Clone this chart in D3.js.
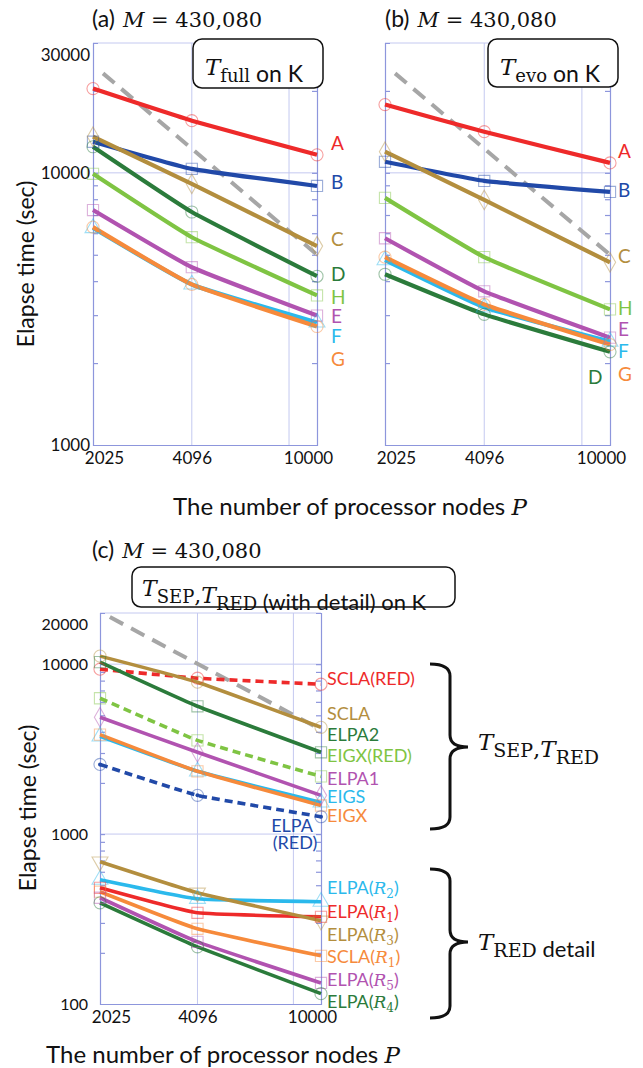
<!DOCTYPE html>
<html><head><meta charset="utf-8">
<script src="https://cdn.jsdelivr.net/npm/d3@7"></script>
<style>body{margin:0;background:#fff}svg{display:block}</style>
</head><body>
<svg id="c" width="643" height="1068"></svg>
<script>
// ---------------- DATA ----------------
const nodes = [2025, 4096, 10000];
const nodeTickLabels = ["2025", "4096", "10000"];

const fullLabels = ["A", "B", "C", "D", "H", "E", "F", "G"];
const fullValues = [
  [20400, 15550, 11650],
  [13010, 10340, 8950],
  [13580, 9110, 5380],
  [12470, 7180, 4170],
  [9920, 5800, 3545],
  [7300, 4500, 2990],
  [6270, 3890, 2820],
  [6320, 3890, 2725]
];

const evoLabels = ["A", "B", "C", "H", "E", "F", "G", "D"];
const evoValues = [
  [17820, 14170, 10880],
  [10980, 9340, 8510],
  [11960, 7950, 4690],
  [8090, 4900, 3150],
  [5750, 3670, 2480],
  [4775, 3205, 2400],
  [4900, 3285, 2340],
  [4240, 3020, 2200]
];

const idealNodes = [2175, 10000];
const idealFull = [23200, 5000];
const idealEvo = [23200, 5000];
const idealSep = [18930, 4120];

const sepLabels = ["SCLA(RED)", "SCLA", "ELPA2", "EIGX(RED)", "ELPA1", "EIGS", "EIGX", "ELPA(RED)"];
const sepValues = [
  [9340, 8270, 7620],
  [11150, 7830, 4250],
  [10280, 5650, 3030],
  [6300, 3560, 2185],
  [4870, 3030, 1690],
  [3760, 2340, 1535],
  [3850, 2340, 1473],
  [2570, 1690, 1265]
];

const redLabels = ["ELPA(R2)", "ELPA(R1)", "ELPA(R3)", "SCLA(R1)", "ELPA(R5)", "ELPA(R4)"];
const redValues = [
  [539, 416, 400],
  [483, 344, 326],
  [688, 452, 309],
  [458, 277, 192],
  [422, 232, 133],
  [394, 217, 115]
];

const yTicksAB = [1000, 10000, 30000];
const yTicksC = [100, 1000, 10000, 20000];

// ---------------- STYLES ----------------
const RED = "#ee2a2a", BLUE = "#2149a8", GOLD = "#b38e3e", DKGREEN = "#2b7b3b",
      LTGREEN = "#7fc443", MAGENTA = "#b153b0", CYAN = "#2bb9ec", ORANGE = "#f68a3b", GRAY = "#a6a6a6";
const SANS = "Lato, 'Open Sans', sans-serif";
const SERIF = "'DejaVu Serif', serif";
const AXIS = "#8d96dc", GRID = "#c4c9f0";

const abStyle = {
  A: {c: RED, s: "circle"}, B: {c: BLUE, s: "square"}, C: {c: GOLD, s: "diamond"},
  D: {c: DKGREEN, s: "circle"}, H: {c: LTGREEN, s: "square"}, E: {c: MAGENTA, s: "square"},
  F: {c: CYAN, s: "triangle"}, G: {c: ORANGE, s: "circle"}
};
const cStyle = {
  "SCLA(RED)": {c: RED, s: "circle", dash: true},
  "SCLA": {c: GOLD, s: "circle"},
  "ELPA2": {c: DKGREEN, s: "square"},
  "EIGX(RED)": {c: LTGREEN, s: "square", dash: true},
  "ELPA1": {c: MAGENTA, s: "diamond"},
  "EIGS": {c: CYAN, s: "triangle"},
  "EIGX": {c: ORANGE, s: "square"},
  "ELPA(RED)": {c: BLUE, s: "circle", dash: true, dot: true},
  "ELPA(R2)": {c: CYAN, s: "triangle"},
  "ELPA(R1)": {c: RED, s: "square"},
  "ELPA(R3)": {c: GOLD, s: "tridown"},
  "SCLA(R1)": {c: ORANGE, s: "square"},
  "ELPA(R5)": {c: MAGENTA, s: "square"},
  "ELPA(R4)": {c: DKGREEN, s: "circle"}
};

// label layout (offsets in px relative to the last point)
const fullLabelDy = {A: -11, B: -4, C: -7, D: -2, H: 2, E: 1, F: 14, G: 33};
const evoLabelDy = {A: -12, B: -2, C: -6, H: -1, E: -8, F: 10, G: 30, D: 26};
const sepLabelDy = {"SCLA(RED)": -6, "SCLA": -14, "ELPA2": -18, "EIGX(RED)": -21, "ELPA1": -17, "EIGS": -6, "EIGX": 10};
const redLabelDy = {"ELPA(R2)": -14, "ELPA(R1)": -5, "ELPA(R3)": 14, "SCLA(R1)": 1, "ELPA(R5)": -3, "ELPA(R4)": 8};

const svg = d3.select("#c");

const symMap = {circle: d3.symbolCircle, square: d3.symbolSquare, diamond: d3.symbolDiamond,
  triangle: d3.symbolTriangle, tridown: d3.symbolTriangle};

function makePanel(o) {
  const x = d3.scaleLog().domain([2025, 10000]).range([o.x0, o.x1]);
  const y = d3.scaleLog().domain(o.yDomain).range([o.yBot, o.yTop]);
  const g = svg.append("g");
  g.selectAll(null).data([4096, 8192]).join("line")
    .attr("x1", d => x(d)).attr("x2", d => x(d)).attr("y1", o.yTop).attr("y2", o.yBot)
    .attr("stroke", GRID).attr("stroke-width", 1);
  g.selectAll(null).data(o.hgrid).join("line")
    .attr("x1", o.x0).attr("x2", o.x1).attr("y1", d => y(d)).attr("y2", d => y(d))
    .attr("stroke", GRID).attr("stroke-width", 1);
  g.append("line").attr("x1", o.x0).attr("x2", o.x1).attr("y1", o.yTop).attr("y2", o.yTop).attr("stroke", GRID);
  const minor = y.ticks().filter(d => d > o.yDomain[0] && d < o.yDomain[1]);
  const la = d3.axisLeft(y).tickValues(minor).tickSize(-5).tickFormat("");
  const ra = d3.axisRight(y).tickValues(minor).tickSize(-5).tickFormat("");
  const gl = g.append("g").attr("transform", `translate(${o.x0},0)`).call(la);
  const gr = g.append("g").attr("transform", `translate(${o.x1},0)`).call(ra);
  [gl, gr].forEach(a => { a.selectAll("path,line").attr("stroke", AXIS).attr("stroke-width", 1.2); });
  const ba = d3.axisBottom(x).tickValues(nodes).tickSize(0).tickFormat((d, i) => nodeTickLabels[i]);
  const gb = g.append("g").attr("transform", `translate(0,${o.yBot})`).call(ba);
  gb.select(".domain").attr("stroke", AXIS).attr("stroke-width", 1.2);
  gb.selectAll("text").attr("font-family", SANS).attr("font-size", 17).attr("fill", "#111")
    .attr("dy", o.xlabDy)
    .attr("dx", (d, i) => i === 0 ? 11 : (i === 2 ? -9 : 0));
  if (o.yTicks) {
    const ya = d3.axisLeft(y).tickValues(o.yTicks).tickSize(0).tickPadding(o.yPad).tickFormat(d3.format("d"));
    const gy = g.append("g").attr("transform", `translate(${o.x0},0)`).call(ya);
    gy.select(".domain").remove();
    const last = o.yTicks[o.yTicks.length - 1];
    gy.selectAll("text").attr("font-family", SANS).attr("font-size", o.yFont).attr("fill", "#111")
      .attr("dy", d => d === last ? "1.0em" : "0.32em");
  }
  return {x, y, g};
}

function marker(g, st, cx, cy) {
  const size = st.s === "circle" ? 115 : (st.s === "square" ? 125 : 110);
  g.append("path")
    .attr("d", d3.symbol().type(symMap[st.s]).size(size)())
    .attr("transform", `translate(${cx},${cy})` + (st.s === "tridown" ? " rotate(180)" : ""))
    .attr("fill", "none").attr("stroke", st.c).attr("stroke-opacity", 0.45).attr("stroke-width", 1.1);
  if (st.dot) g.append("circle").attr("cx", cx).attr("cy", cy).attr("r", 2).attr("fill", st.c);
}

function drawSeries(P, labels, values, styles, width) {
  const line = d3.line().x((d, i) => P.x(nodes[i])).y(d => P.y(d)).curve(d3.curveCardinal.tension(0.65));
  labels.forEach((lab, k) => {
    const st = styles[lab];
    P.g.append("path").datum(values[k]).attr("d", line)
      .attr("fill", "none").attr("stroke", st.c).attr("stroke-width", width)
      .attr("stroke-dasharray", st.dash ? "8,5" : null).attr("stroke-linejoin", "round");
  });
  labels.forEach((lab, k) => {
    values[k].forEach((v, i) => marker(P.g, styles[lab], P.x(nodes[i]), P.y(v)));
  });
}

function drawIdeal(P, vals) {
  P.g.append("path").datum(vals)
    .attr("d", d3.line().x((d, i) => P.x(idealNodes[i])).y(d => P.y(d)))
    .attr("fill", "none").attr("stroke", GRAY).attr("stroke-width", 4)
    .attr("stroke-dasharray", "15,9");
}

function richLabel(g, lab, x, yc, size, color, anchor) {
  const t = g.append("text").attr("x", x).attr("y", yc).attr("dy", "0.35em")
    .attr("fill", color).attr("font-family", SANS).attr("font-size", size)
    .attr("text-anchor", anchor || "start");
  const m = lab.match(/^(\w+)\(R(\d)\)$/);
  if (m) {
    t.append("tspan").text(m[1] + "(");
    t.append("tspan").attr("font-family", SERIF).attr("font-style", "italic").attr("font-size", size - 1).text("R");
    t.append("tspan").attr("font-family", SERIF).attr("font-size", size - 6).attr("dy", 4).text(m[2]);
    t.append("tspan").attr("dy", -4).text(")");
  } else {
    t.text(lab);
  }
  return t;
}

// ---------- Panel (a) ----------
const PA = makePanel({x0: 93, x1: 317, yTop: 43, yBot: 445, yDomain: [1000, 30000], hgrid: [10000],
  yTicks: yTicksAB, yPad: 3, yFont: 17, xlabDy: "0.95em"});
drawIdeal(PA, idealFull);
drawSeries(PA, fullLabels, fullValues, abStyle, 4.2);
fullLabels.forEach((lab, k) => {
  richLabel(PA.g, lab, PA.x(10000) + 14, PA.y(fullValues[k][2]) + fullLabelDy[lab], 19, abStyle[lab].c);
});

// ---------- Panel (b) ----------
const PB = makePanel({x0: 385, x1: 610, yTop: 43, yBot: 445, yDomain: [1000, 30000], hgrid: [10000],
  yTicks: null, xlabDy: "0.95em"});
drawIdeal(PB, idealEvo);
drawSeries(PB, evoLabels, evoValues, abStyle, 4.2);
evoLabels.forEach((lab, k) => {
  const dx = lab === "D" ? -22 : 8;
  richLabel(PB.g, lab, PB.x(10000) + dx, PB.y(evoValues[k][2]) + evoLabelDy[lab], 19, abStyle[lab].c);
});

// ---------- Panel (c) ----------
const PC = makePanel({x0: 100, x1: 321, yTop: 613, yBot: 1004, yDomain: [100, 20000], hgrid: [1000, 10000],
  yTicks: yTicksC, yPad: 12, yFont: 16, xlabDy: "0.95em"});
drawIdeal(PC, idealSep);
drawSeries(PC, sepLabels, sepValues, cStyle, 3.6);
drawSeries(PC, redLabels, redValues, cStyle, 3.6);
sepLabels.forEach((lab, k) => {
  const yEnd = PC.y(sepValues[k][2]);
  if (lab === "ELPA(RED)") {
    const t = PC.g.append("text").attr("fill", cStyle[lab].c).attr("font-family", SANS).attr("font-size", 18)
      .attr("text-anchor", "middle");
    t.append("tspan").attr("x", PC.x(10000) - 29).attr("y", yEnd + 9).attr("dy", "0.35em").text("ELPA");
    t.append("tspan").attr("x", PC.x(10000) - 26).attr("y", yEnd + 26).attr("dy", "0.35em").text("(RED)");
  } else {
    richLabel(PC.g, lab, PC.x(10000) + 6, yEnd + sepLabelDy[lab], 18, cStyle[lab].c);
  }
});
redLabels.forEach((lab, k) => {
  richLabel(PC.g, lab, PC.x(10000) + 6, PC.y(redValues[k][2]) + redLabelDy[lab], 18, cStyle[lab].c);
});

// ---------- Titles ----------
function title(x, y, letter) {
  const t = svg.append("text").attr("x", x).attr("y", y).attr("fill", "#111");
  t.append("tspan").attr("font-family", SANS).attr("font-size", 23).text(`(${letter})`);
  t.append("tspan").attr("dx", 8).attr("font-family", SERIF).attr("font-style", "italic").attr("font-size", 21).text("M");
  t.append("tspan").attr("font-family", SERIF).attr("font-size", 21).text(" = 430,080");
}
title(92, 27, "a");
title(385, 27, "b");
title(92, 558, "c");

function yTitle(cx, cy) {
  svg.append("text").attr("transform", `translate(${cx},${cy}) rotate(-90)`)
    .attr("text-anchor", "middle").attr("dy", "0.35em")
    .attr("font-family", SANS).attr("font-size", 23).attr("fill", "#111").text("Elapse time (sec)");
}
yTitle(26, 264);
yTitle(28, 808);

function xTitle(cx, cy) {
  const t = svg.append("text").attr("x", cx).attr("y", cy).attr("text-anchor", "middle").attr("dy", "0.35em")
    .attr("font-family", SANS).attr("font-size", 24).attr("fill", "#111");
  t.append("tspan").text("The number of processor nodes ");
  t.append("tspan").attr("font-family", SERIF).attr("font-style", "italic").attr("font-size", 23).text("P");
}
xTitle(350, 507);
xTitle(223, 1055);

// ---------- Boxes ----------
function box(x, y, w, h) {
  svg.append("rect").attr("x", x).attr("y", y).attr("width", w).attr("height", h).attr("rx", 9)
    .attr("fill", "#fff").attr("stroke", "#111").attr("stroke-width", 1.5);
}
function Tsub(t, sub, size, subSize) {
  t.append("tspan").attr("font-family", SERIF).attr("font-style", "italic").attr("font-size", size).text("T");
  t.append("tspan").attr("font-family", SERIF).attr("font-size", subSize).attr("dy", 7).text(sub);
  t.append("tspan").attr("dy", -7).text("");
}
box(193, 39, 130, 49);
{
  const t = svg.append("text").attr("x", 205).attr("y", 75).attr("fill", "#111").attr("font-family", SANS).attr("font-size", 23);
  Tsub(t, "full", 23, 18);
  t.append("tspan").attr("font-family", SANS).text(" on K");
}
box(488, 39, 130, 48);
{
  const t = svg.append("text").attr("x", 500).attr("y", 75).attr("fill", "#111").attr("font-family", SANS).attr("font-size", 23);
  Tsub(t, "evo", 23, 18);
  t.append("tspan").attr("font-family", SANS).text(" on K");
}
box(132, 567, 323, 40);
{
  const t = svg.append("text").attr("x", 142).attr("y", 596).attr("fill", "#111").attr("font-family", SANS).attr("font-size", 22);
  Tsub(t, "SEP", 22, 18);
  t.append("tspan").attr("font-family", SERIF).attr("font-size", 22).text(",");
  Tsub(t, "RED", 22, 18);
  t.append("tspan").attr("font-family", SANS).text(" (with detail) on K");
}

// ---------- Braces ----------
function brace(x0, y0, y1, ym, xv, xt) {
  const r = 12;
  const p = `M${x0},${y0} Q${xv},${y0} ${xv},${y0 + r} L${xv},${ym - r} Q${xv},${ym} ${xt},${ym} ` +
            `Q${xv},${ym} ${xv},${ym + r} L${xv},${y1 - r} Q${xv},${y1} ${x0},${y1}`;
  svg.append("path").attr("d", p).attr("fill", "none").attr("stroke", "#111").attr("stroke-width", 3);
}
brace(430, 664, 829, 747, 450, 468);
brace(430, 869, 1018, 942, 450, 468);
{
  const t = svg.append("text").attr("x", 478).attr("y", 750).attr("fill", "#111").attr("font-family", SANS).attr("font-size", 22);
  Tsub(t, "SEP", 23, 19);
  t.append("tspan").attr("font-family", SERIF).attr("font-size", 23).text(",");
  Tsub(t, "RED", 23, 19);
}
{
  const t = svg.append("text").attr("x", 478).attr("y", 950).attr("fill", "#111").attr("font-family", SANS).attr("font-size", 22);
  Tsub(t, "RED", 23, 19);
  t.append("tspan").attr("font-family", SANS).text(" detail");
}
</script>
</body></html>
